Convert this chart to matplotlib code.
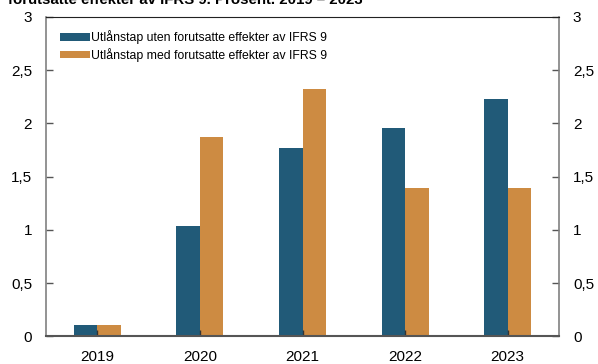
import matplotlib
matplotlib.use("Agg")
import matplotlib.pyplot as plt
import numpy as np

years = ["2019", "2020", "2021", "2022", "2023"]
uten = [0.11, 1.035, 1.77, 1.96, 2.23]
med = [0.11, 1.87, 2.32, 1.39, 1.39]
labels = ["Utlånstap uten forutsatte effekter av IFRS 9",
          "Utlånstap med forutsatte effekter av IFRS 9"]
yticks = [0, 0.5, 1, 1.5, 2, 2.5, 3]
ytick_labels = ["0", "0,5", "1", "1,5", "2", "2,5", "3"]
title = "forutsatte effekter av IFRS 9. Prosent. 2019 – 2023"

plt.rcParams['font.family'] = ['Liberation Sans', 'DejaVu Sans']

fig = plt.figure(figsize=(5.98, 3.64), dpi=100)
W, H = 598, 364
ax = fig.add_axes([46 / W, 1 - 336.3 / H, (559 - 46) / W, (336.3 - 17) / H])

x = np.arange(len(years))
w = 0.23
blue = "#215a78"
orange = "#cd8b42"
ax.bar(x - w / 2, uten, w, color=blue, label=labels[0])
ax.bar(x + w / 2, med, w, color=orange, label=labels[1])

ax.set_xlim(-0.5, 4.5)
ax.set_ylim(0, 3)
ax.set_xticks(x)
ax.set_xticklabels(years, fontsize=11)
ax.set_yticks(yticks)
ax.set_yticklabels(ytick_labels, fontsize=11)
ax.tick_params(axis='y', direction='in', length=5, color='#555555', width=1,
               left=True, right=True, labelleft=True, labelright=True, pad=10)
ax.tick_params(axis='x', direction='in', length=4, color='#333333', width=1, pad=10)

for s in ['left', 'right']:
    ax.spines[s].set_color('#808080')
    ax.spines[s].set_linewidth(1.2)
ax.spines['bottom'].set_color('#555555')
ax.spines['bottom'].set_linewidth(1.5)
ax.spines['top'].set_color('#222222')
ax.spines['top'].set_linewidth(0.8)

leg = ax.legend(loc='upper left', frameon=False, fontsize=8.8,
                handlelength=2.5, handleheight=0.6, handletextpad=0.05,
                labelspacing=0.3, borderaxespad=0.3,
                bbox_to_anchor=(0.01, 0.985))

fig.text(8 / W, 1 - 3.5 / H, title, fontsize=10.8, fontweight='bold',
         va='baseline', ha='left')

fig.savefig("out.png", dpi=100)
